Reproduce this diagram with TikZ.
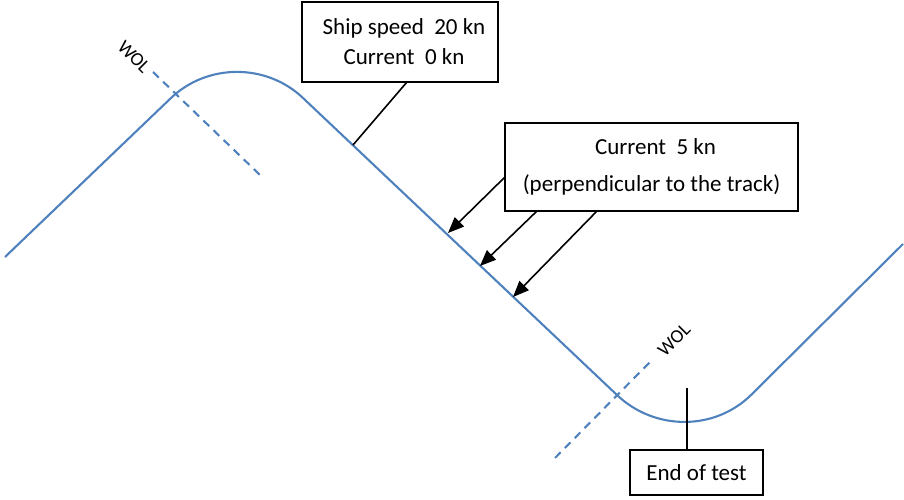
\documentclass[tikz,border=0pt]{standalone}
\usepackage{fontspec}
\setmainfont{Carlito}
\usetikzlibrary{arrows.meta}
\definecolor{trackblue}{RGB}{79,129,189}
\begin{document}
\begin{tikzpicture}[x=1pt,y=-1pt,
  track/.style={draw=trackblue, line width=2.1pt},
  wolline/.style={draw=trackblue, line width=2.1pt, dash pattern=on 8pt off 6pt},
  infobox/.style={draw=black, line width=1.5pt, fill=white, inner sep=0pt, align=center,
     font=\fontsize{23}{30}\selectfont},
  pointer/.style={draw=black, line width=1.6pt},
  curarrow/.style={draw=black, line width=1.6pt, -{Triangle[length=16pt,width=13pt]}},
  wol/.style={font=\fontsize{19}{20}\selectfont, inner sep=0pt}
]
\useasboundingbox (0,0) rectangle (904,500);
% track
\draw[track] (5,257) -- (171,98)
  .. controls (207.5,63.2) and (266.5,63.2) .. (303,98)
  -- (617,395)
  .. controls (654.6,430.9) and (714.5,430.9) .. (751,395)
  -- (903,244);
% WOL lines
\coordinate (wa1) at (153,72);
\coordinate (wa2) at (260,175);
\coordinate (wb1) at (555,458);
\coordinate (wb2) at (650,362);
\draw[wolline] (wa1) -- (wa2);
\draw[wolline] (wb1) -- (wb2);
\node[wol, rotate=-45] (wolA) at (134,57) {WOL};
\node[wol, rotate=45] (wolB) at (674,340) {WOL};
% box 1
\node[infobox, minimum width=196pt, minimum height=80pt] (b1) at (400,42)
  {\hspace*{8pt}Ship speed\ \ 20 kn\\\hspace*{8pt}Current\ \ 0 kn};
\coordinate (t1) at (353,145);
\coordinate (b1p) at (407,82);
\draw[pointer] (b1p) -- (t1);
% box 2
\node[infobox, minimum width=293pt, minimum height=88pt, font=\fontsize{23}{37}\selectfont] (b2) at (651.5,167)
  {\hspace*{8pt}Current\ \ 5 kn\\(perpendicular to the track)};
\coordinate (s1) at (505,177);
\coordinate (s2) at (537,211);
\coordinate (s3) at (597,211);
\coordinate (e1) at (448,233);
\coordinate (e2) at (480,266);
\coordinate (e3) at (513,297);
\draw[curarrow] (s1) -- (e1);
\draw[curarrow] (s2) -- (e2);
\draw[curarrow] (s3) -- (e3);
% box 3
\node[infobox, minimum width=133pt, minimum height=45pt] (b3) at (696.5,472.5) {End of test};
\coordinate (t3) at (687,388);
\draw[pointer] (t3) -- (b3.north -| t3);
\end{tikzpicture}
\end{document}
